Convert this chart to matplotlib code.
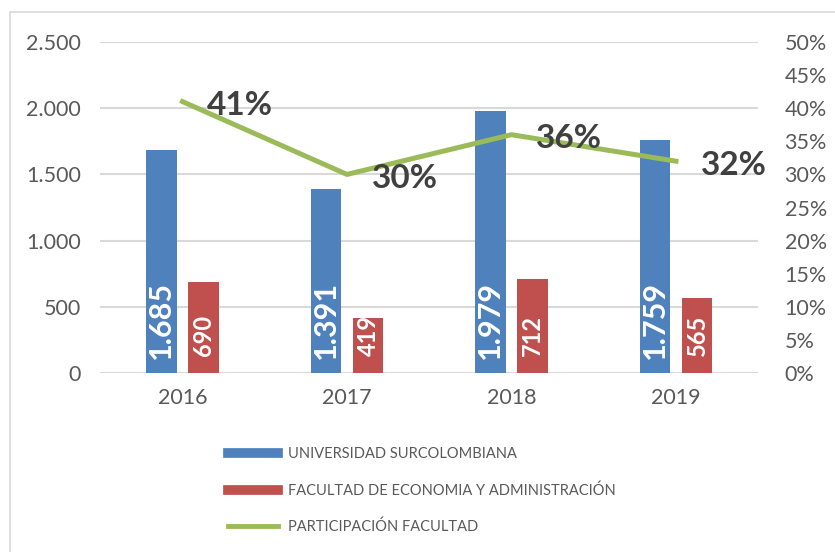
import numpy as np
import matplotlib
matplotlib.use('Agg')
import matplotlib.pyplot as plt
from matplotlib.patches import Rectangle
from matplotlib.lines import Line2D
from matplotlib.ticker import FuncFormatter

years = ['2016', '2017', '2018', '2019']
universidad = [1685, 1391, 1979, 1759]
facultad = [690, 419, 712, 565]
participacion = [0.41, 0.30, 0.36, 0.32]
labels = ['UNIVERSIDAD SURCOLOMBIANA',
          'FACULTAD DE ECONOMIA Y ADMINISTRACIÓN',
          'PARTICIPACIÓN FACULTAD']

blue = '#4F81BD'
red = '#C0504D'
green = '#9BBB59'
gray = '#595959'

plt.rcParams['font.family'] = ['Lato', 'DejaVu Sans']

fig = plt.figure(figsize=(8.35, 5.52), dpi=100)
ax = fig.add_axes([0.12, 0.324, 0.788, 0.6])
ax2 = ax.twinx()

x = np.arange(len(years))
w = 0.185
off = 0.128
ax.bar(x - off, universidad, w, color=blue, zorder=3)
ax.bar(x + off, facultad, w, color=red, zorder=3)

for i in range(len(years)):
    ax.text(x[i] - off, 110, '{:,}'.format(universidad[i]).replace(',', '.'),
            rotation=90, ha='center', va='bottom', color='white',
            fontsize=22, fontweight='bold', zorder=4)
    ax.text(x[i] + off, 130, str(facultad[i]), rotation=90, ha='center',
            va='bottom', color='white', fontsize=17, fontweight='bold', zorder=4)

ax.set_ylim(0, 2500)
ax.set_yticks(np.arange(0, 2501, 500))
ax.yaxis.set_major_formatter(FuncFormatter(lambda v, p: '{:,.0f}'.format(v).replace(',', '.')))
ax.set_xlim(-0.5, 3.5)
ax.set_xticks(x)
ax.set_xticklabels(years)
ax.grid(axis='y', color='#D9D9D9', linewidth=1.5, zorder=0)
ax.set_axisbelow(True)

ax2.plot(x, participacion, color=green, linewidth=3.6, zorder=5)
for i in range(len(years)):
    ax2.text(x[i] + 0.15, participacion[i] - 0.006, '{:.0f}%'.format(participacion[i] * 100),
             fontsize=24, fontweight='bold', color='#404040', ha='left', va='center',
             zorder=6)
ax2.set_ylim(0, 0.5)
ax2.set_yticks(np.arange(0, 0.501, 0.05))
ax2.yaxis.set_major_formatter(FuncFormatter(lambda v, p: '{:.0f}%'.format(v * 100)))

for a in (ax, ax2):
    for s in a.spines.values():
        s.set_visible(False)
    a.tick_params(length=0, labelsize=15.5, labelcolor=gray)
ax.tick_params(axis='x', pad=11)
ax.tick_params(axis='y', pad=14)
ax2.tick_params(axis='y', pad=19)

handles = [Line2D([], [], color=blue, linewidth=7),
           Line2D([], [], color=red, linewidth=7),
           Line2D([], [], color=green, linewidth=3.5)]
fig.legend(handles, labels, loc='upper left', bbox_to_anchor=(0.266, 0.2),
           frameon=False, fontsize=10.5, labelcolor=gray, handlelength=3.4,
           labelspacing=1.5, handletextpad=0.7, borderaxespad=0)

fig.add_artist(Rectangle((10 / 835, -0.01), 1, 1 - 12 / 552 + 0.01,
                         transform=fig.transFigure, fill=False,
                         edgecolor='#D9D9D9', linewidth=1.2))

fig.savefig('out.png', dpi=100)
